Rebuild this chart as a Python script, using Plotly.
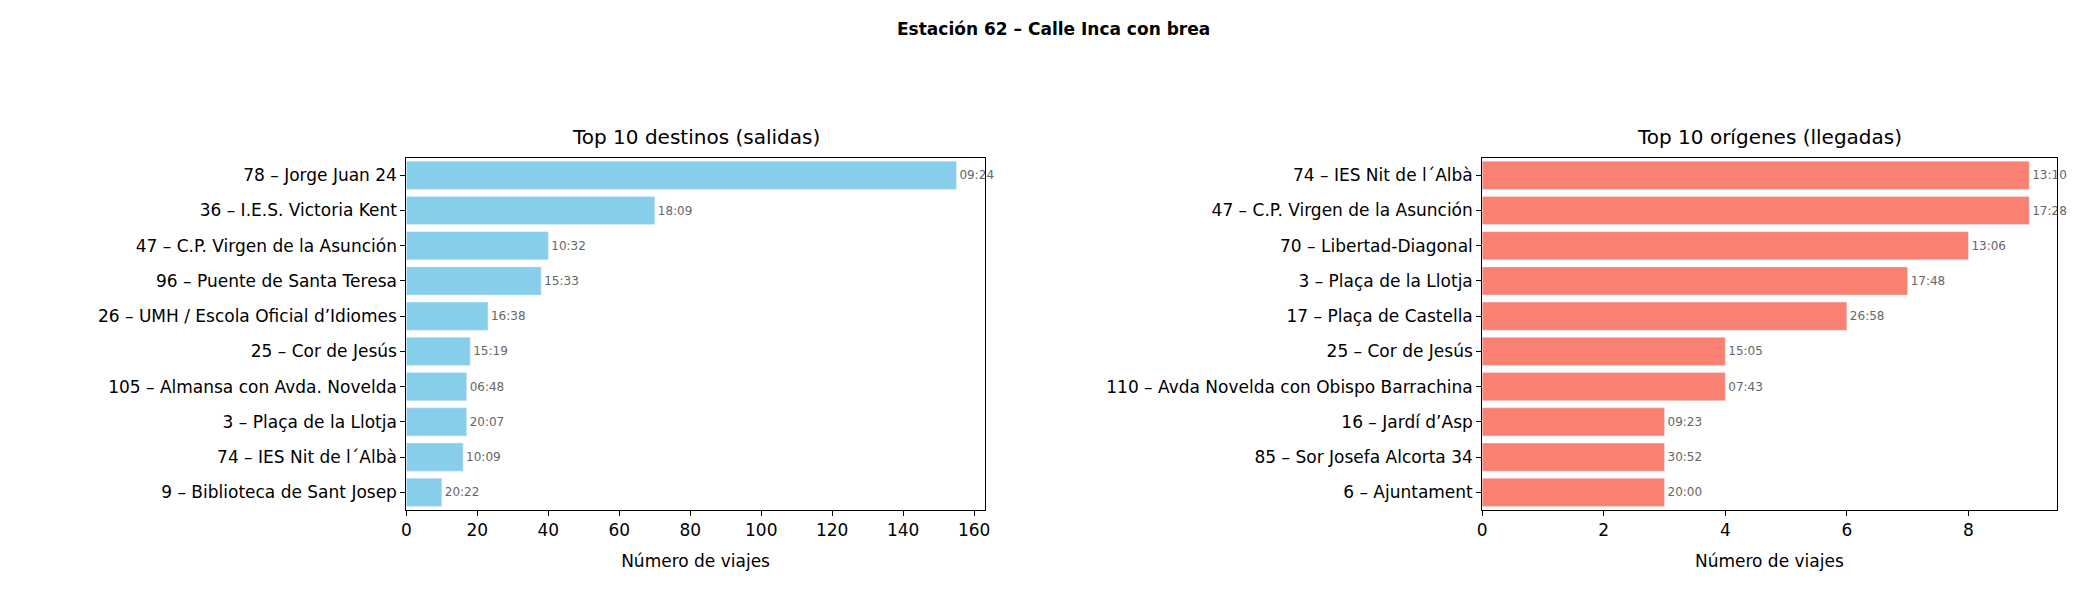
import plotly.graph_objects as go

# Datos
dest_labels = ["78 – Jorge Juan 24", "36 – I.E.S. Victoria Kent", "47 – C.P. Virgen de la Asunción",
               "96 – Puente de Santa Teresa", "26 – UMH / Escola Oficial d’Idiomes", "25 – Cor de Jesús",
               "105 – Almansa con Avda. Novelda", "3 – Plaça de la Llotja", "74 – IES Nit de l´Albà",
               "9 – Biblioteca de Sant Josep"]
dest_values = [155, 70, 40, 38, 23, 18, 17, 17, 16, 10]
dest_times = ["09:24", "18:09", "10:32", "15:33", "16:38", "15:19", "06:48", "20:07", "10:09", "20:22"]

orig_labels = ["74 – IES Nit de l´Albà", "47 – C.P. Virgen de la Asunción", "70 – Libertad-Diagonal",
               "3 – Plaça de la Llotja", "17 – Plaça de Castella", "25 – Cor de Jesús",
               "110 – Avda Novelda con Obispo Barrachina", "16 – Jardí d’Asp", "85 – Sor Josefa Alcorta 34",
               "6 – Ajuntament"]
orig_values = [9, 9, 8, 7, 6, 4, 4, 3, 3, 3]
orig_times = ["13:10", "17:28", "13:06", "17:48", "26:58", "15:05", "07:43", "09:23", "30:52", "20:00"]

fig = go.Figure()
fig.add_trace(go.Bar(x=dest_values, y=dest_labels, orientation="h", marker_color="#87ceeb",
                     text=dest_times, textposition="outside", cliponaxis=False,
                     textfont=dict(size=12, color="#666666"), width=0.8, xaxis="x", yaxis="y"))
fig.add_trace(go.Bar(x=orig_values, y=orig_labels, orientation="h", marker_color="#fa8072",
                     text=orig_times, textposition="outside", cliponaxis=False,
                     textfont=dict(size=12, color="#666666"), width=0.8, xaxis="x2", yaxis="y2"))

axis_common = dict(showline=True, mirror=True, linecolor="black", linewidth=1, showgrid=False,
                   ticks="outside", ticklen=5, tickcolor="black", zeroline=False,
                   tickfont=dict(size=17, color="black"))

fig.update_layout(
    width=2092, height=594, showlegend=False, plot_bgcolor="white", paper_bgcolor="white",
    font=dict(family="DejaVu Sans", color="black"),
    margin=dict(l=0, r=0, t=0, b=0),
    xaxis=dict(domain=[0.189, 0.467], range=[0, 163], dtick=20, anchor="y",
               title=dict(text="Número de viajes", font=dict(size=17)), **axis_common),
    yaxis=dict(domain=[0.155, 0.748], autorange="reversed", anchor="x", range=None, **axis_common),
    xaxis2=dict(domain=[0.706, 0.982], range=[0, 9.45], dtick=2, anchor="y2",
                title=dict(text="Número de viajes", font=dict(size=17)), **axis_common),
    yaxis2=dict(domain=[0.155, 0.748], autorange="reversed", anchor="x2", **axis_common),
    annotations=[
        dict(text="<b>Estación 62 – Calle Inca con brea</b>", x=0.5, y=0.985, xref="paper", yref="paper",
             showarrow=False, xanchor="center", yanchor="top", font=dict(size=17)),
        dict(text="Top 10 destinos (salidas)", x=0.328, y=0.76, xref="paper", yref="paper",
             showarrow=False, xanchor="center", yanchor="bottom", font=dict(size=20)),
        dict(text="Top 10 orígenes (llegadas)", x=0.844, y=0.76, xref="paper", yref="paper",
             showarrow=False, xanchor="center", yanchor="bottom", font=dict(size=20)),
    ],
)

fig.write_html("out.html")
